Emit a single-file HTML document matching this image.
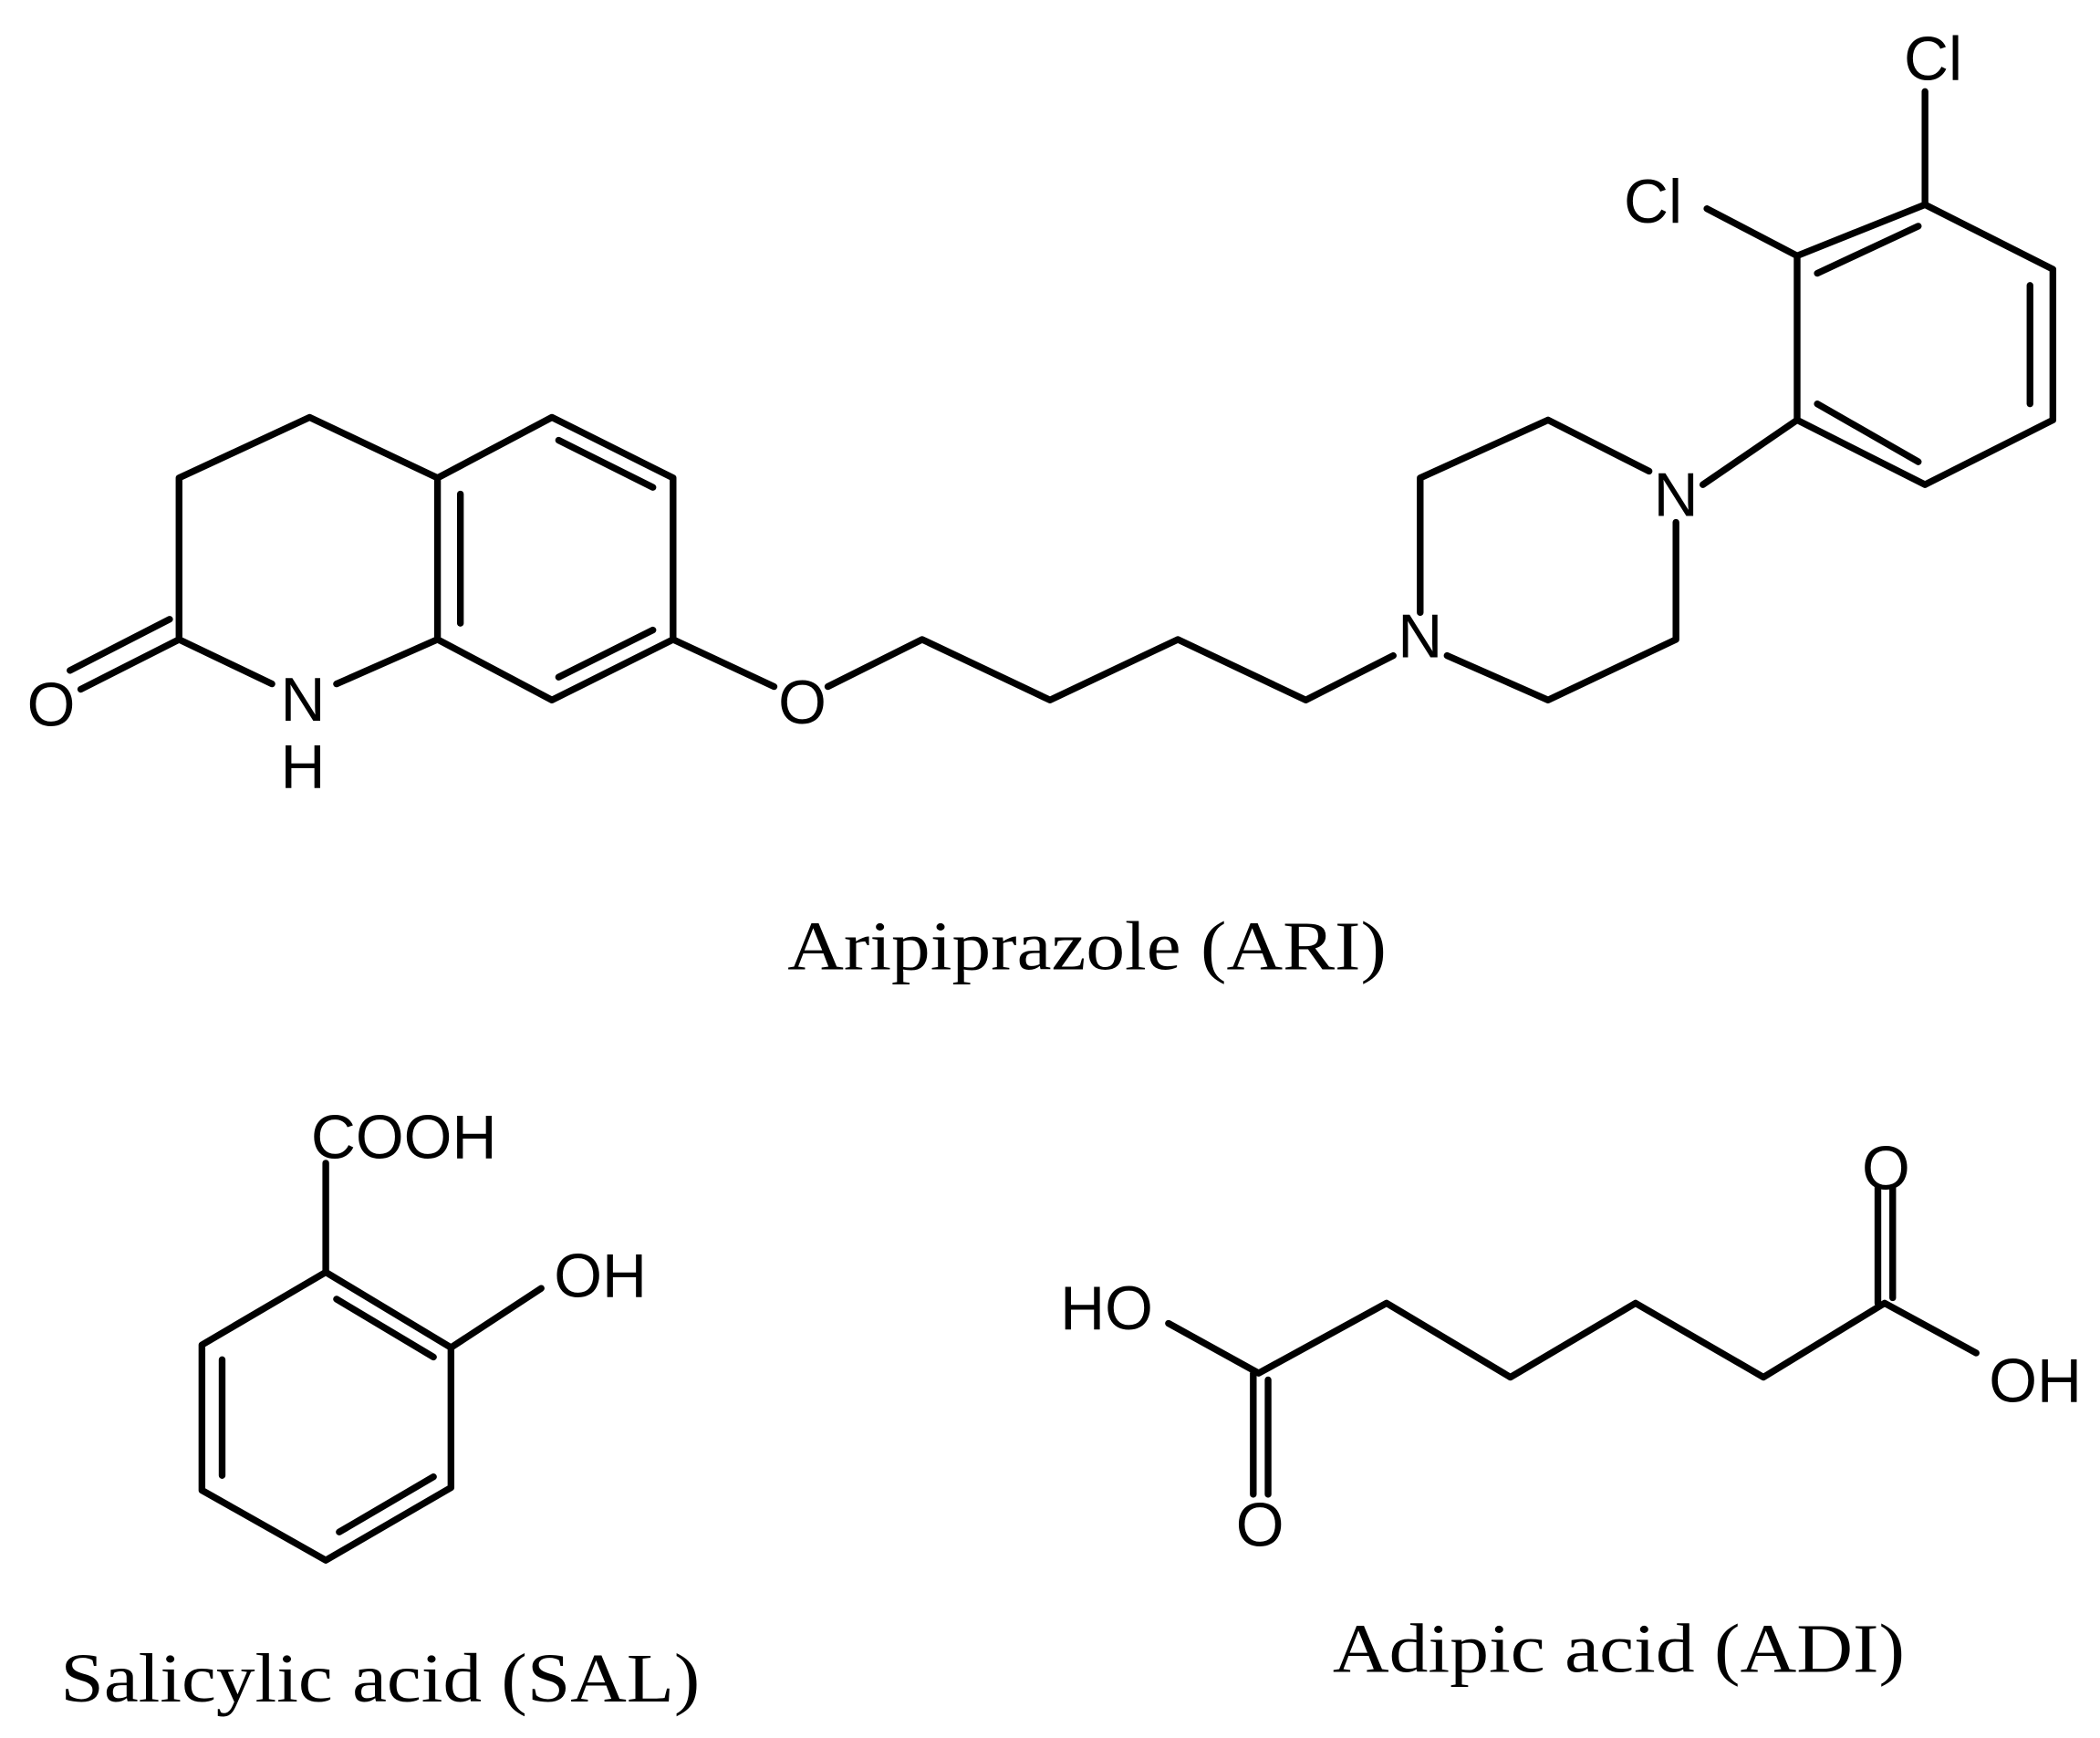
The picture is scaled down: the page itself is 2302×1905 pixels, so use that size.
<!DOCTYPE html>
<html><head><meta charset="utf-8"><style>
html,body{margin:0;padding:0;background:#fff;}
svg{display:block}
.a{font-family:"Liberation Sans",sans-serif;font-size:46px;fill:#000}
.l{font-family:"Liberation Serif",serif;font-size:52px;fill:#000}
</style></head><body>
<svg width="2302" height="1905" viewBox="0 0 1560 1291" preserveAspectRatio="none" xmlns="http://www.w3.org/2000/svg">
<rect width="1560" height="1291" fill="#fff"/>
<g stroke="#000" stroke-width="5" fill="none" stroke-linejoin="round" stroke-linecap="round">
<polyline points="325,355 230,310 133,355 133,475 202,508"/>
<line x1="325" y1="475" x2="250" y2="508"/>
<line x1="133" y1="475" x2="60" y2="512"/>
<line x1="126" y1="460" x2="52" y2="498"/>
<polyline points="325,355 410,310 500,355 500,475 410,520 325,475 325,355"/>
<line x1="415" y1="327" x2="485" y2="362"/>
<line x1="485" y1="468" x2="415" y2="503"/>
<line x1="342" y1="367" x2="342" y2="463"/>
<line x1="500" y1="475" x2="575" y2="510"/>
<polyline points="615,510 685,475 780,520 875,475 970,520 1035,487"/>
<polyline points="1055,455 1055,355 1150,312 1225,350"/>
<polyline points="1075,487 1150,520 1245,475 1245,388"/>
<line x1="1265" y1="360" x2="1335" y2="312"/>
<polyline points="1335,312 1335,190 1430,152 1525,200 1525,312 1430,360 1335,312"/>
<line x1="1350" y1="203" x2="1425" y2="168"/>
<line x1="1508" y1="212" x2="1508" y2="300"/>
<line x1="1350" y1="300" x2="1425" y2="343"/>
<line x1="1430" y1="152" x2="1430" y2="68"/>
<line x1="1335" y1="190" x2="1268" y2="155"/>
<line x1="242" y1="864" x2="242" y2="945"/>
<polyline points="242,945 335,1001 335,1105 242,1159 150,1107 150,999 242,945"/>
<line x1="250" y1="965" x2="322" y2="1008"/>
<line x1="322" y1="1097" x2="252" y2="1138"/>
<line x1="165" y1="1010" x2="165" y2="1096"/>
<line x1="335" y1="1001" x2="402" y2="957"/>
<polyline points="868,983 935,1020 1030,968 1122,1023 1215,968 1310,1023 1400,968 1468,1005"/>
<line x1="931" y1="1020" x2="931" y2="1110"/>
<line x1="942" y1="1025" x2="942" y2="1110"/>
<line x1="1395" y1="968" x2="1395" y2="882"/>
<line x1="1406" y1="964" x2="1406" y2="882"/>
</g>
<g class="a" text-anchor="middle" dominant-baseline="central">
<text x="38" y="524">O</text>
<text x="225" y="520">N</text>
<text x="225" y="570">H</text>
<text x="596" y="522">O</text>
<text x="1055" y="473">N</text>
<text x="1245" y="368">N</text>
<text x="1228" y="150">Cl</text>
<text x="1436" y="44">Cl</text>
<text x="300" y="845">COOH</text>
<text x="446" y="948">OH</text>
<text x="822" y="972">HO</text>
<text x="1512" y="1026">OH</text>
<text x="1401" y="868">O</text>
<text x="936" y="1133">O</text>
</g>
<g class="l">
<text x="585" y="720" textLength="445" lengthAdjust="spacingAndGlyphs">Aripiprazole (ARI)</text>
<text x="45" y="1264" textLength="475" lengthAdjust="spacingAndGlyphs">Salicylic acid (SAL)</text>
<text x="990" y="1242" textLength="425" lengthAdjust="spacingAndGlyphs">Adipic acid (ADI)</text>
</g>
</svg>
</body></html>
